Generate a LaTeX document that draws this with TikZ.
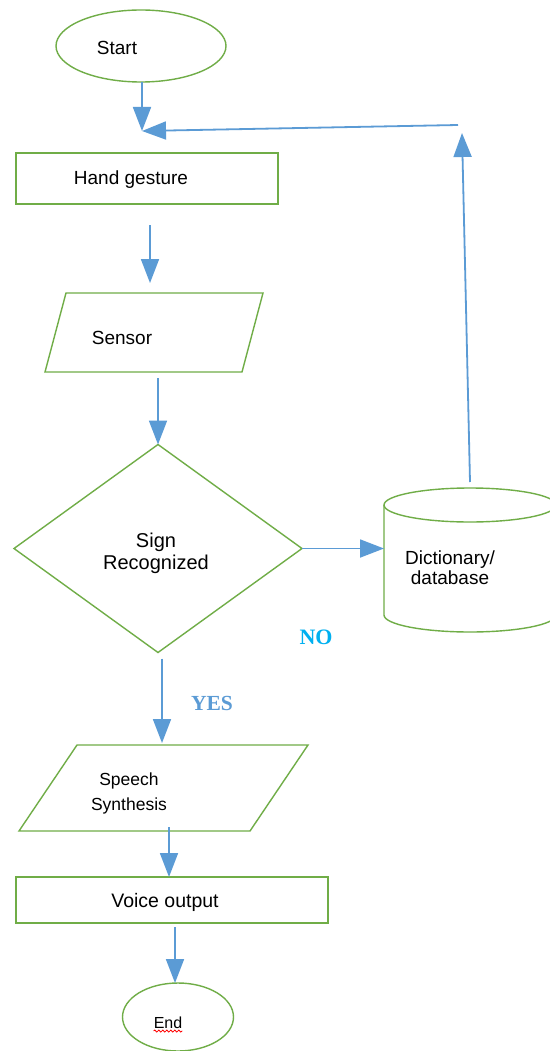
\documentclass[tikz,border=0pt]{standalone}
\usepackage{fontspec}
\setmainfont{Liberation Sans}
\newfontfamily\yesnofont{Liberation Serif}
\usetikzlibrary{arrows.meta,shapes.geometric,decorations.pathmorphing}
\definecolor{shapegreen}{HTML}{70AD47}
\definecolor{flowblue}{HTML}{5B9BD5}
\definecolor{nocyan}{HTML}{00B0F0}

\begin{document}
\begin{tikzpicture}[x=1pt,y=-1pt,
    hidden/.style={inner sep=0pt, outer sep=0pt},
    greenline/.style={draw=shapegreen, line width=1.4pt},
    flow/.style={draw=flowblue, line width=1.8pt, -{Triangle[length=24pt,width=18pt]}},
    lbl/.style={inner sep=0pt, anchor=base, align=center, font=\fontsize{19}{22}\selectfont}]
  \fill[white] (0,0) rectangle (549,1051);
  \useasboundingbox (0,0) rectangle (549,1051);

  % shapes
  \node[hidden, greenline, ellipse, minimum width=170pt, minimum height=72pt] (start) at (141,46) {};
  \node[hidden, greenline, rectangle, minimum width=262pt, minimum height=51pt] (hand) at (147,178.5) {};
  \node[hidden, minimum width=197pt, minimum height=79pt] (sensor) at (154,332.5) {};
  \draw[greenline] ([xshift=10.5pt]sensor.north west) -- ([xshift=10.5pt]sensor.north east)
    -- ([xshift=-10.5pt]sensor.south east) -- ([xshift=-10.5pt]sensor.south west) -- cycle;
  \node[hidden, greenline, diamond, minimum width=288pt, minimum height=208pt] (sign) at (158,548.5) {};
  \node[hidden, minimum width=172pt, minimum height=144pt] (dict) at (470,560) {};
  \draw[greenline] ([yshift=-17pt]dict.north) ellipse [x radius=86, y radius=17];
  \draw[greenline] ([yshift=-17pt]dict.north west) -- ([yshift=17pt]dict.south west)
    arc [start angle=180, end angle=0, x radius=86, y radius=17] -- ([yshift=-17pt]dict.north east);
  \node[hidden, minimum width=231pt, minimum height=86pt] (speech) at (163.5,788) {};
  \draw[greenline] ([xshift=29pt]speech.north west) -- ([xshift=29pt]speech.north east)
    -- ([xshift=-29pt]speech.south east) -- ([xshift=-29pt]speech.south west) -- cycle;
  \node[hidden, greenline, rectangle, minimum width=312pt, minimum height=46pt] (voice) at (172,900) {};
  \node[hidden, greenline, ellipse, minimum width=111pt, minimum height=68pt] (stop) at (178,1017) {};

  % texts
  \node[lbl] (startlbl) at (117,55) {Start};
  \node[lbl] (handlbl) at (131,185) {Hand gesture};
  \node[lbl] (sensorlbl) at (122,344) {Sensor};
  \node[lbl, font=\fontsize{20}{22}\selectfont] (signlbl) at (156,569) {Sign\\Recognized};
  \node[lbl, font=\fontsize{19}{20}\selectfont] (dictlbl) at (450,584) {Dictionary/\\database};
  \node[lbl, font=\fontsize{17.5}{25}\selectfont] (speechlbl) at (129,810) {Speech\\Synthesis};
  \node[lbl, font=\fontsize{19.5}{22}\selectfont] (voicelbl) at (165,907) {Voice output};
  \node[lbl, font=\fontsize{16}{18}\selectfont] (stoplbl) at (168,1028) {End};
  \draw[red, line width=0.8pt, decorate, decoration={snake, amplitude=1pt, segment length=4pt}]
    ([yshift=-3pt]stoplbl.base west) -- ([yshift=-3pt]stoplbl.base east);
  \node[lbl, text=flowblue, font=\yesnofont\bfseries\fontsize{21.5}{24}\selectfont] (yeslbl) at (212,710) {YES};
  \node[lbl, text=nocyan, font=\yesnofont\bfseries\fontsize{22}{24}\selectfont] (nolbl) at (316,644) {NO};

  % connectors
  \coordinate (join) at (142,131);
  \coordinate (loopcorner) at (458,125);
  \coordinate (looptip) at (462,133);
  \draw[flow] ([xshift=1pt]start.south) -- (join);
  \draw[flow] (loopcorner) -- (join);
  \draw[flow] ([yshift=6pt]dict.north) -- (looptip);
  \draw[flow] ([xshift=3pt,yshift=-21pt]hand.south) -- ([xshift=-4pt,yshift=10pt]sensor.north);
  \draw[flow] ([xshift=4pt,yshift=-6pt]sensor.south) -- (sign.north);
  \draw[flow] (sign.east) -- (sign.east -| dict.west);
  \draw[flow] ([xshift=4pt,yshift=-6pt]sign.south) -- ([xshift=-1.5pt,yshift=2pt]speech.north);
  \draw[flow] ([xshift=5.5pt,yshift=4pt]speech.south) -- ([xshift=-3pt]voice.north);
  \draw[flow] ([xshift=3pt,yshift=-4pt]voice.south) -- ([xshift=-3pt]stop.north);
\end{tikzpicture}
\end{document}
